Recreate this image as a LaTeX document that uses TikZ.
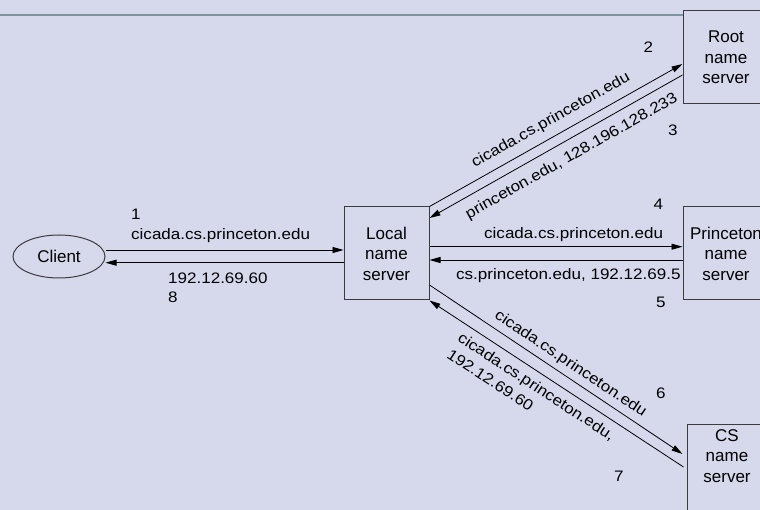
\documentclass[tikz,border=0pt]{standalone}
\usepackage{fontspec}
\setmainfont{Liberation Sans}
\newfontfamily\lblfont[FakeStretch=1.12]{Liberation Sans}
\usetikzlibrary{arrows.meta,shapes.geometric,calc}
\definecolor{bgc}{RGB}{214,216,236}
\definecolor{toplinec}{RGB}{124,150,160}
\definecolor{boxc}{RGB}{60,60,60}
\begin{document}
\begin{tikzpicture}[x=1pt,y=-1pt,
  srv/.style={draw=boxc, line width=1pt, rectangle, minimum width=86pt, minimum height=93pt,
    align=center, inner sep=0pt, font=\fontsize{17}{20.5}\selectfont},
  txt/.style={align=center, inner sep=0pt, font=\fontsize{17}{20.5}\selectfont},
  lbl/.style={inner sep=2pt, font=\lblfont\fontsize{15.2}{20}\selectfont},
  arr/.style={line width=0.8pt, -{Triangle[length=11pt,width=6pt]}},
  rarr/.style={line width=0.8pt, {Triangle[length=11pt,width=6pt]}-}
]
\useasboundingbox (0,0) rectangle (760,510);
\fill[bgc] (0,0) rectangle (760,510);

% nodes
\node[draw=boxc, line width=1pt, ellipse, minimum width=92pt, minimum height=43pt, inner sep=0pt,
      font=\fontsize{17}{20.5}\selectfont] (client) at (59,256.5) {Client};
\node[srv, minimum width=85pt] (local) at (386.5,253.5) {Local\\name\\server};
\node[srv, fill=bgc] (root) at (726,57.4) {Root\\name\\server};
\node[srv] (princeton) at (726,253.5) {Princeton\\name\\server};
\node[srv, minimum width=84pt, minimum height=100pt] (cs) at (729,474) {};
\node[txt, anchor=north] (cstext) at (727,429) {CS\\name\\server};

% top rule
\coordinate (tl) at (0,15);
\draw[toplinec, line width=1.2pt] (tl) -- (tl -| root.west);

% client <-> local
\draw[arr] ([yshift=6.5]client.east) -- ([yshift=3.5]local.west);
\draw[arr] ([yshift=-9.2]local.west) -- ([yshift=-6.2]client.east);
\node[lbl, anchor=base west, inner sep=0pt] (n1) at (131,219.3) {1};
\node[lbl, anchor=base west, inner sep=0pt] (q1) at (131,239.3) {cicada.cs.princeton.edu};
\node[lbl, anchor=base west, inner sep=0pt] (a8) at (168,283.3) {192.12.69.60};
\node[lbl, anchor=base west, inner sep=0pt] (n8) at (168,302.3) {8};

% local <-> root
\draw[arr] (local.north east) -- ([yshift=-6.6]root.west)
  node[lbl, pos=0.51, sloped, above, yshift=6pt] (q2) {cicada.cs.princeton.edu};
\draw[rarr] ([yshift=35.5]local.east) -- ([yshift=-17.6]root.west)
  node[lbl, pos=0.53, sloped, below, yshift=-7pt] (a3) {princeton.edu, 128.196.128.233};
\node[lbl, anchor=base west, inner sep=0pt] (n2) at (643.3,52.3) {2};
\node[lbl, anchor=base west, inner sep=0pt] (n3) at (668,135.7) {3};

% local <-> princeton
\draw[arr] ([yshift=6.8]local.east) -- ([yshift=6.8]princeton.west);
\draw[arr] ([yshift=-6.5]princeton.west) -- ([yshift=-6.5]local.east);
\node[lbl, anchor=base west, inner sep=0pt] (q4) at (484,238.5) {cicada.cs.princeton.edu};
\node[lbl, anchor=base west, inner sep=0pt] (n4) at (653.3,209.3) {4};
\node[lbl, anchor=base west, inner sep=0pt] (a5) at (456,280) {cs.princeton.edu, 192.12.69.5};
\node[lbl, anchor=base west, inner sep=0pt] (n5) at (656,308) {5};

% local <-> cs
\draw[arr] ([yshift=-31.5]local.east) -- ([xshift=-4pt,yshift=20pt]cs.west)
  node[lbl, pos=0.53, sloped, above, yshift=3pt] (q6) {cicada.cs.princeton.edu};
\draw[rarr] (local.south east) -- ([xshift=-3pt,yshift=7pt]cs.west)
  node[lbl, pos=0.45, sloped, below, align=left, yshift=-5pt] (a7) {cicada.cs.princeton.edu,\\192.12.69.60};
\node[lbl, anchor=base west, inner sep=0pt] (n6) at (656,398) {6};
\node[lbl, anchor=base west, inner sep=0pt] (n7) at (614,481.7) {7};
\end{tikzpicture}
\end{document}
